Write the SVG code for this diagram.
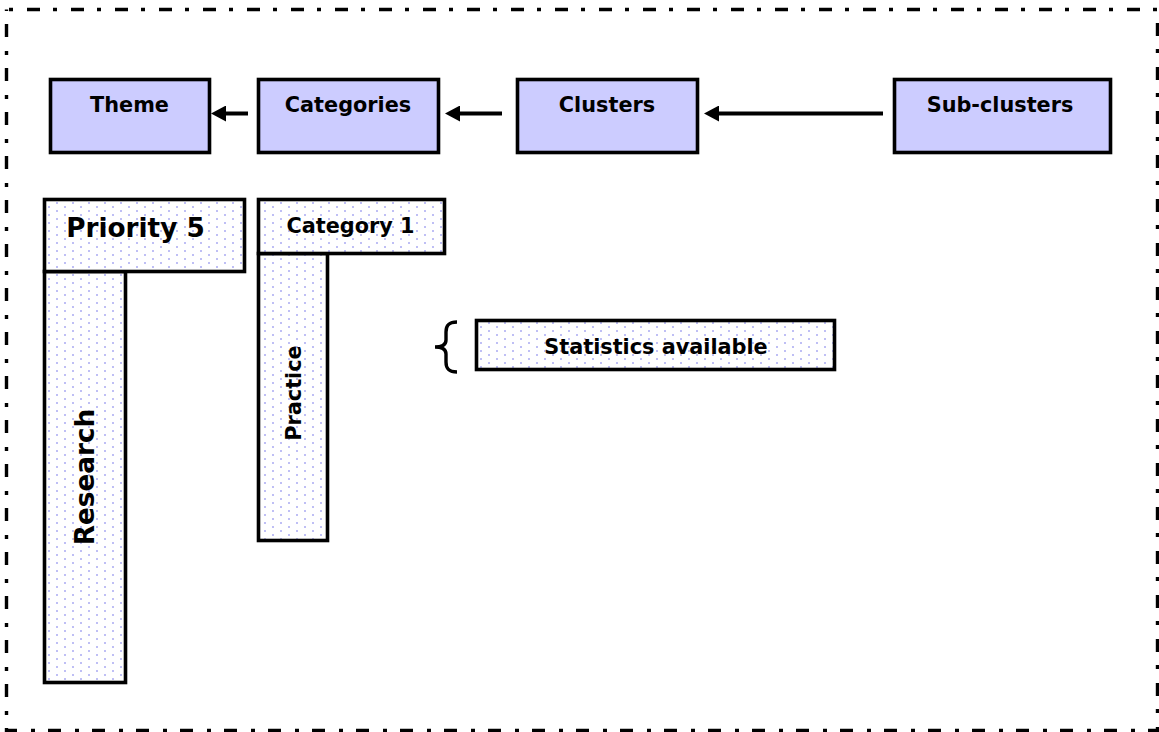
<svg xmlns="http://www.w3.org/2000/svg" width="1159" height="732" viewBox="0 0 1159 732">
  <style>
    .hdr { fill: #ccccff; stroke: #000; stroke-width: 3.6; }
    .dot { fill: url(#dots); stroke: #000; stroke-width: 3.6; }
    .lbl { font-family: "DejaVu Sans", Verdana, sans-serif; font-weight: bold; fill: #000; text-anchor: middle; }
    .s20 { font-size: 20.8px; }
    .s25 { font-size: 26.3px; }
    .arrow { stroke: #000; stroke-width: 4; fill: none; marker-end: url(#head); }
  </style>
  <defs>
    <!-- staggered lavender dot fill -->
    <pattern id="dots" patternUnits="userSpaceOnUse" x="0" y="0" width="16" height="8">
      <rect width="16" height="8" fill="#fff"/>
      <rect x="0" y="6" width="2" height="2" fill="#bfbff5"/>
      <rect x="8" y="2" width="2" height="2" fill="#bfbff5"/>
    </pattern>
    <marker id="head" markerUnits="userSpaceOnUse" viewBox="0 -8 15 16" markerWidth="15" markerHeight="16" refX="5" refY="0" orient="auto">
      <path d="M0,-8 L15,0 L0,8 Z" fill="#000"/>
    </marker>
  </defs>

  <rect width="1159" height="732" fill="#fff"/>

  <!-- outer dash-dot frame -->
  <rect x="6.5" y="9.5" width="1151" height="721" fill="none" stroke="#000" stroke-width="3.4" stroke-dasharray="13 13 4 14" stroke-dashoffset="23.5"/>

  <!-- hierarchy header -->
  <g id="theme">
    <rect class="hdr" x="50.5" y="79.5" width="159" height="73"/>
    <text class="lbl s20" x="129.5" y="112">Theme</text>
  </g>
  <g id="categories">
    <rect class="hdr" x="258.5" y="79.5" width="180" height="73"/>
    <text class="lbl s20" x="348" y="112">Categories</text>
  </g>
  <g id="clusters">
    <rect class="hdr" x="517.5" y="79.5" width="180" height="73"/>
    <text class="lbl s20" x="607" y="112">Clusters</text>
  </g>
  <g id="sub-clusters">
    <rect class="hdr" x="894.5" y="79.5" width="216" height="73"/>
    <text class="lbl s20" x="1000" y="112">Sub-clusters</text>
  </g>

  <g id="connectors">
    <line class="arrow" x1="248" y1="113.5" x2="221" y2="113.5"/>
    <line class="arrow" x1="502" y1="113.5" x2="455" y2="113.5"/>
    <line class="arrow" x1="883" y1="113.5" x2="714" y2="113.5"/>
  </g>

  <!-- priority block -->
  <g id="research">
    <rect class="dot" x="44.5" y="271.5" width="81" height="411"/>
    <text class="lbl s25" transform="translate(94 477) rotate(-90)">Research</text>
  </g>
  <g id="priority-5">
    <rect class="dot" x="44.5" y="199.5" width="200" height="72"/>
    <text class="lbl s25" x="135.5" y="236.5">Priority 5</text>
  </g>

  <!-- category block -->
  <g id="practice">
    <rect class="dot" x="258.5" y="253.5" width="69" height="287"/>
    <text class="lbl s20" transform="translate(300.5 393) rotate(-90)">Practice</text>
  </g>
  <g id="category-1">
    <rect class="dot" x="258.5" y="199.5" width="186" height="54"/>
    <text class="lbl s20" x="350.5" y="232.5">Category 1</text>
  </g>

  <!-- statistics note with brace -->
  <g id="statistics">
    <path d="M457,322 C448,322 446,326 446,332 L446,340 C446,345 442,347 435,347 C442,347 446,349 446,354 L446,362 C446,368 448,372 457,372" fill="none" stroke="#000" stroke-width="3.4"/>
    <rect class="dot" x="476.5" y="320.5" width="358" height="49"/>
    <text class="lbl s20" x="656" y="354">Statistics available</text>
  </g>
</svg>
